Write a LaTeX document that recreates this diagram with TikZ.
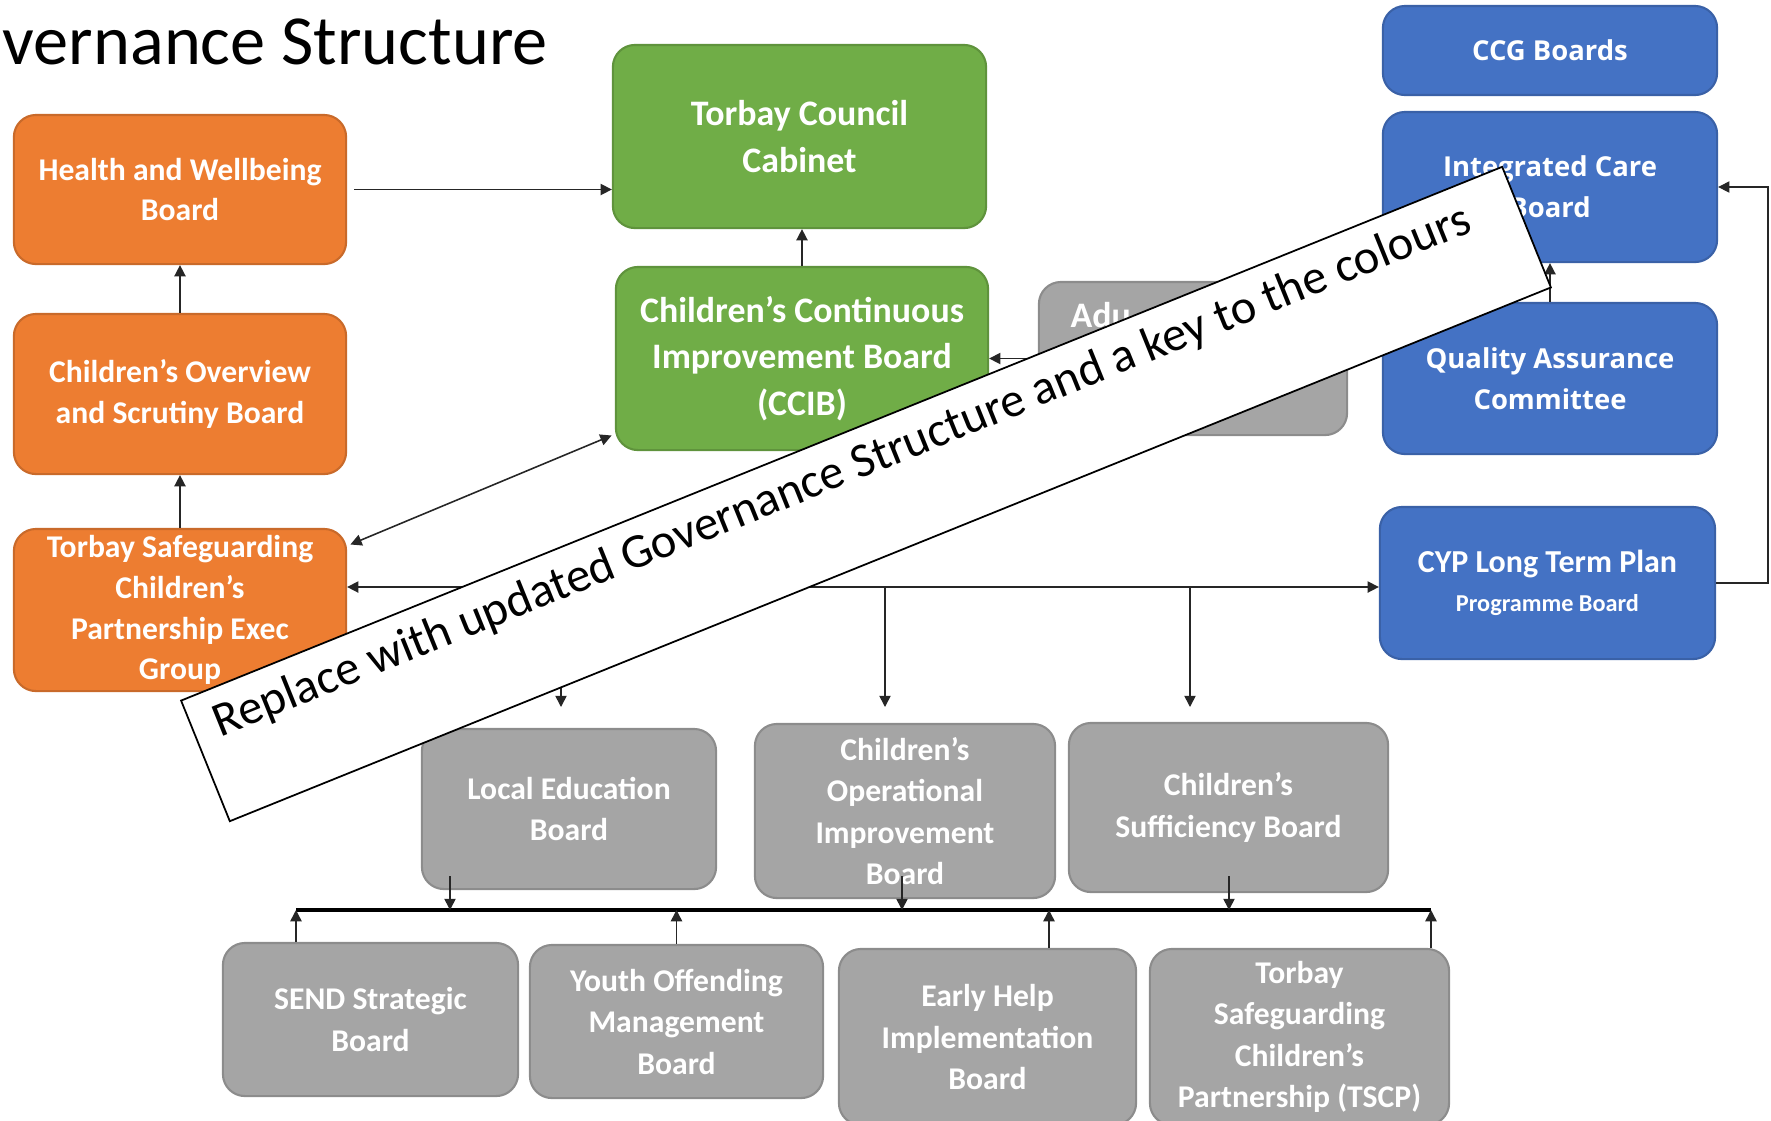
\documentclass[tikz,border=0pt]{standalone}
\usepackage{fontspec}
\setmainfont{Carlito}
\newfontfamily\opensans{Open Sans}
\usetikzlibrary{arrows.meta}
\definecolor{orangebox}{HTML}{ED7D31}
\definecolor{greenbox}{HTML}{70AD47}
\definecolor{bluebox}{HTML}{4472C4}
\definecolor{greybox}{HTML}{A5A5A5}
\tikzset{board/.style={rectangle,rounded corners=0.22cm,fill=#1,draw=#1!85!black,line width=0.6pt,text=white,align=center,inner sep=1pt},
  orange node/.style={board=orangebox,font=\fontsize{9}{11.6}\selectfont\bfseries},
  green node/.style={board=greenbox,font=\fontsize{10.2}{13.2}\selectfont\bfseries},
  blue node/.style={board=bluebox,font=\opensans\fontsize{7.8}{11.6}\selectfont\bfseries},
  grey node/.style={board=greybox,font=\fontsize{9}{11.8}\selectfont\bfseries},
  note node/.style={rectangle,draw=black,fill=white,line width=0.5pt},
  link/.style={draw=black!85,line width=0.45pt,->}}

\begin{document}
\begin{tikzpicture}[x=0.01cm,y=-0.01cm,>={Triangle[length=3.2pt,width=3.2pt]}]
    \useasboundingbox (0,0) rectangle (1771,1120);
    \node[anchor=base west,inner sep=0pt,font=\fontsize{20}{24}\selectfont] (title) at (2,64) {vernance Structure};

    % orange column
    \node[orange node,minimum width=3.32cm,minimum height=1.49cm] (hwb) at (180,189.5) {Health and Wellbeing\\Board};
    \node[orange node,minimum width=3.32cm,minimum height=1.6cm] (cosb) at (180,394) {Children's Overview\\and Scrutiny Board};
    \node[orange node,minimum width=3.32cm,minimum height=1.62cm] (tscpeg) at (180,610) {Torbay Safeguarding\\Children’s\\Partnership Exec\\Group};

    % green column
    \node[green node,minimum width=3.73cm,minimum height=1.83cm] (cabinet) at (799.5,136.5) {Torbay Council\\Cabinet};
    \node[green node,minimum width=3.72cm,minimum height=1.83cm] (ccib) at (802,358.5) {Children’s Continuous\\Improvement Board\\(CCIB)};
    \node[grey node,minimum width=3.08cm,minimum height=1.53cm] (adult) at (1193,358.5) {};
    \node[anchor=base west,inner sep=0pt,text=white,font=\fontsize{10.2}{13.2}\selectfont\bfseries] (adulttext) at (1070,327) {Adu};

    % blue column
    \node[blue node,minimum width=3.34cm,minimum height=0.89cm] (ccg) at (1550,50.5) {CCG Boards};
    \node[blue node,minimum width=3.34cm,minimum height=1.5cm] (icb) at (1550,187) {Integrated Care\\Board};
    \node[blue node,minimum width=3.34cm,minimum height=1.51cm] (qac) at (1550,378.5) {Quality Assurance\\Committee};
    \node[board=bluebox,minimum width=3.35cm,minimum height=1.52cm,font=\bfseries] (cyp) at (1547.5,583) {{\fontsize{9.1}{11}\selectfont CYP Long Term Plan}\\[-1pt]{\fontsize{6.9}{9}\selectfont Programme Board}};

    % grey boards
    \node[grey node,minimum width=2.94cm,minimum height=1.6cm] (leb) at (569,809) {Local Education\\Board};
    \node[grey node,minimum width=3.0cm,minimum height=1.74cm] (coib) at (905,811) {Children’s\\Operational\\Improvement\\Board};
    \node[grey node,minimum width=3.19cm,minimum height=1.69cm] (csb) at (1228.5,807.5) {Children’s\\Sufficiency Board};
    \node[grey node,minimum width=2.95cm,minimum height=1.53cm] (send) at (370.5,1019.5) {SEND Strategic\\Board};
    \node[grey node,minimum width=2.93cm,minimum height=1.53cm] (yomb) at (676.5,1021.5) {Youth Offending\\Management\\Board};
    \node[grey node,minimum width=2.97cm,minimum height=1.76cm] (ehib) at (987.5,1037) {Early Help\\Implementation\\Board};
    \node[grey node,minimum width=2.99cm,minimum height=1.76cm] (tscp) at (1299.5,1037) {Torbay\\Safeguarding\\Children’s\\Partnership (TSCP)};

    % links
    \draw[link,shorten <=2pt] (hwb.east) -- (hwb.east -| cabinet.west);
    \draw[link] (cosb.north) -- (hwb.south);
    \draw[link] (tscpeg.north) -- (cosb.south);
    \draw[link] (ccib.north) -- (ccib.north |- cabinet.south);
    \draw[link,<->,shorten <=1pt,shorten >=1pt] (tscpeg.21) -- (ccib.202);
    \draw[link] (adult.west) -- (ccib.east);
    \draw[link] (qac.north) -- (icb.south);
    \coordinate (loop) at (1768,0);
    \draw[link,line width=0.35pt] (cyp.east) -- (cyp.east -| loop) |- (icb.east);
    \coordinate (hub) at (0,587);
    \draw[link,<->] (tscpeg.east |- hub) -- (cyp.west |- hub);
    \coordinate (lebin) at (561,707);
    \coordinate (coibin) at (885,707);
    \coordinate (csbin) at (1190,707);
    \foreach \c in {lebin,coibin,csbin}{
        \draw[link] (\c |- hub) -- (\c);
    }

    % lower bus
    \coordinate (busw) at (296,910);
    \coordinate (buse) at (1431,910);
    \draw[line width=0.9pt] (busw) -- (buse);
    \coordinate (lebout) at (450,876);
    \coordinate (coibout) at (902,876);
    \coordinate (csbout) at (1229,876);
    \foreach \c in {lebout,coibout,csbout}{
        \draw[link] (\c) -- (\c |- busw);
    }
    \coordinate (ehibup) at (1049,0);
    \draw[link] (send.north -| busw) -- (busw);
    \draw[link] (yomb.north) -- (yomb.north |- busw);
    \draw[link] (ehib.north -| ehibup) -- (ehibup |- busw);
    \draw[link] (tscp.north -| buse) -- (buse);

    % note over the chart
    \begin{scope}[shift={(866,494)},rotate=22,transform shape]
        \node[note node,minimum width=14.24cm,minimum height=1.3cm] (note) at (0,0) {};
        \node[anchor=base west,inner sep=0pt,font=\fontsize{13.8}{17}\selectfont] (notetext) at (-690,-16) {Replace with updated Governance Structure and a key to the colours};
    \end{scope}
\end{tikzpicture}
\end{document}
